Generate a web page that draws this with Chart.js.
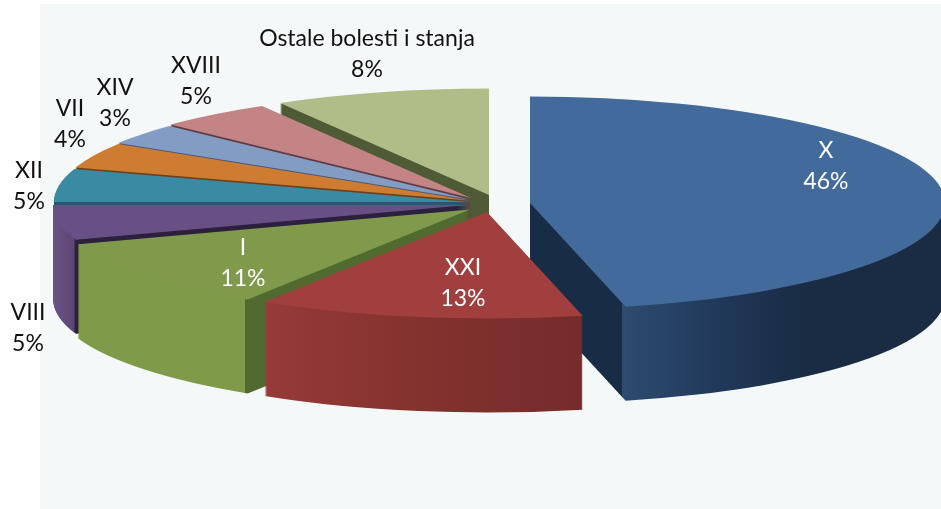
<!DOCTYPE html>
<html>
<head>
<meta charset="utf-8">
<style>html,body{margin:0;padding:0;background:#fff}canvas{display:block}</style>
<script src="https://cdn.jsdelivr.net/npm/chart.js@4"></script>
</head>
<body>
<canvas id="c" width="941" height="509"></canvas>
<script>
const categories = ['X','XXI','I','VIII','XII','VII','XIV','XVIII','Ostale bolesti i stanja'];
const values = [46.3,12.7,10.7,5.3,5.0,3.9,3.2,4.5,8.4];
const topColors = ['#426a9b','#a03f3d','#80994a','#684f85','#3b8aa3','#cf7c33','#839cc4','#c28484','#afbd88'];
// slice placement on the tilted plane (canvas px of each slice's apex)
const apexX = [530,487,470,468,469,470,470,471,489];
const apexY = [203,212,209.5,205,202,200.5,199.5,198,195];
// wall shading: [canvas x, colour] stops, left to right
const wallStops = [
  [[530,'#182c45'],[621.5,'#182c45'],[622,'#2d4c70'],[720,'#20385a'],[800,'#192c44'],[941,'#192c44']],
  [[265,'#973a39'],[400,'#85332f'],[583,'#752c2b']],
  [[70,'#7f9a48'],[244.5,'#7f9a48'],[245,'#506a2f'],[480,'#506a2f']],
  [[53,'#6c5287'],[74,'#5c4675'],[75,'#2d1f3e'],[480,'#2d1f3e']],
  [[50,'#205a6c'],[480,'#205a6c']],
  [[70,'#6b3f1a'],[480,'#6b3f1a']],
  [[120,'#4a5a78'],[480,'#4a5a78']],
  [[170,'#5e3a44'],[480,'#5e3a44']],
  [[270,'#4e5b36'],[490,'#4e5b36']]
];
const wallOrder = [8,7,6,5,4,3,2,0,1];
const labelColors = ['#fff','#fff','#fff','#111','#111','#111','#111','#111','#111'];
const labelX = [826,463,243,28,29,70,115,196,367];
const labelY = [151,268,248,313,171,109,88,66,39];
const RX = 415, RY = 106.5, DEPTH = 94, LINE = 30.5;

const pie3d = {
  id:'pie3d',
  beforeDraw(chart){
    const c = chart.ctx;
    c.save(); c.fillStyle='#f5f8f8'; c.fillRect(40,4,901,505); c.restore();
  },
  beforeDatasetsDraw(chart){
    const c = chart.ctx, arcs = chart.getDatasetMeta(0).data;
    const place = (el,i,dy) => {
      c.translate(apexX[i], apexY[i]+dy);
      c.scale(RX/el.outerRadius, RY/el.outerRadius);
      c.translate(-el.x,-el.y);
    };
    wallOrder.forEach(i => {
      const el = arcs[i];
      const x0 = wallStops[i][0][0], x1 = wallStops[i][wallStops[i].length-1][0];
      const toLocal = x => (x-apexX[i])*el.outerRadius/RX + el.x;
      c.save(); place(el,i,0);
      const g = c.createLinearGradient(toLocal(x0),0,toLocal(x1),0);
      wallStops[i].forEach(s => g.addColorStop((s[0]-x0)/(x1-x0), s[1]));
      c.restore();
      const clone = Object.create(el);
      clone.options = Object.assign({}, el.options, {backgroundColor:g});
      for (let d=DEPTH; d>=1; d--) {
        c.save(); place(el,i,d); clone.draw(c); c.restore();
      }
    });
    arcs.forEach((el,i) => { c.save(); place(el,i,0); el.draw(c); c.restore(); });
    return false;
  },
  afterDraw(chart){
    const c = chart.ctx;
    c.save();
    c.font = '23px Lato, sans-serif';
    c.textAlign='center'; c.textBaseline='middle';
    categories.forEach((name,i) => {
      c.fillStyle = labelColors[i];
      c.fillText(name, labelX[i], labelY[i]);
      c.fillText(Math.round(values[i])+'%', labelX[i], labelY[i]+LINE);
    });
    c.restore();
  }
};

new Chart(document.getElementById('c'), {
  type:'pie',
  data:{labels:categories, datasets:[{data:values, backgroundColor:topColors, borderWidth:0, radius:400}]},
  options:{
    responsive:false, animation:false, radius:400,
    layout:{padding:0},
    plugins:{legend:{display:false}, tooltip:{enabled:false}, title:{display:false}}
  },
  plugins:[pie3d]
});
</script>
</body>
</html>
